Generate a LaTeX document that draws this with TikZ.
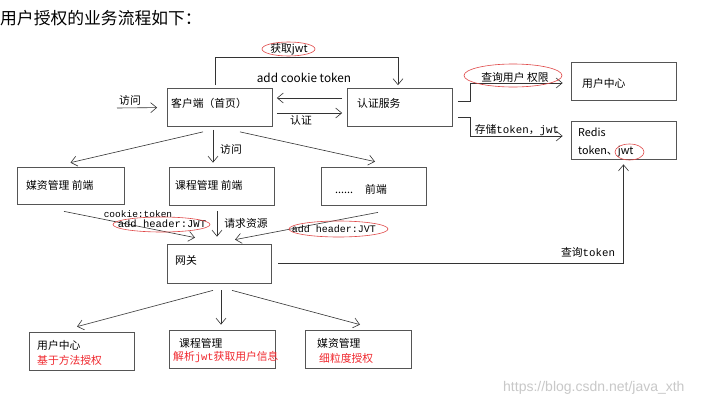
\documentclass[tikz,border=0pt]{standalone}
\usepackage{fontspec}
\setmainfont{Noto Sans CJK SC}
\newfontfamily\mono{Liberation Mono}
\newfontfamily\wmfont{Liberation Sans}
\usetikzlibrary{arrows.meta,calc}
\definecolor{boxc}{HTML}{555555}
\definecolor{linec}{HTML}{333333}
\definecolor{redtc}{HTML}{F0282E}
\definecolor{elc}{HTML}{E04848}
\definecolor{wmc}{HTML}{C8C8C8}
\begin{document}
\begin{tikzpicture}[x=1pt,y=-1pt,
  box/.style={draw=boxc,line width=0.75pt,inner sep=0pt,minimum width=105pt,minimum height=38pt},
  txt/.style={inner sep=0pt,anchor=west,font=\fontsize{10.8}{12}\selectfont,text=black},
  lbl/.style={inner sep=0pt,font=\fontsize{10.8}{12}\selectfont,text=black},
  redtxt/.style={txt,text=redtc},
  arr/.style={draw=linec,line width=0.6pt,-{Straight Barb[length=6pt,width=10pt]}},
  oval/.style={draw=elc,line width=0.6pt}
]
\useasboundingbox[fill=white] (0,0) rectangle (716,410);

% title
\node[inner sep=0pt,anchor=west,font=\fontsize{16.8}{19}\selectfont] (title) at (0,18) {用户授权的业务流程如下：};

% boxes
\node[box] (kh) at (220,107.5) {};
\node[box] (rz) at (400,107.5) {};
\node[box] (yh) at (623.5,81) {};
\node[box] (rd) at (623.5,140) {};
\node[box,minimum width=107pt,minimum height=37pt] (mz) at (70.5,185.5) {};
\node[box] (kc) at (221.5,186) {};
\node[box] (qd) at (373.5,186) {};
\node[box,minimum width=104pt,minimum height=39pt] (wg) at (219,263.5) {};
\node[box] (b1) at (81.5,351) {};
\node[box,minimum width=106pt] (b2) at (222,349) {};
\node[box,minimum width=106pt] (b3) at (358,349) {};

% box texts
\node[txt] (tkh) at (171,103) {客户端（首页）};
\node[txt] (trz) at (357,103) {认证服务};
\node[txt] (tyh) at (582,83) {用户中心};
\node[txt] (trd1) at (578,132) {Redis};
\node[txt] (trd2) at (578,152) {token、jwt};
\node[txt] (tmz) at (26,185) {媒资管理 前端};
\node[txt] (tkc) at (175,185) {课程管理 前端};
\node[txt] (tqd) at (335,189) {......\hspace{12pt}前端};
\node[txt] (twg) at (175,260) {网关};
\node[txt] (tb1a) at (37,345) {用户中心};
\node[redtxt] (tb1b) at (37,360) {基于方法授权};
\node[txt] (tb2a) at (179,343) {课程管理};
\node[redtxt] (tb2b) at (173,357) {解析{\mono\fontsize{10.5}{12}\selectfont jwt}获取用户信息};
\node[txt] (tb3a) at (317,343) {媒资管理};
\node[redtxt] (tb3b) at (319,358) {细粒度授权};

% entry
\coordinate (in) at (117,108);
\draw[arr,shorten >=10pt] (in) -- (kh.west);
\node[lbl] (lin) at (130,100) {访问};

% client <-> auth
\draw[arr,shorten <=5pt,shorten >=4pt] (rz.west |- 0,98) -- (kh.east |- 0,98);
\draw[arr,shorten <=4pt,shorten >=5pt] (kh.east |- 0,113) -- (rz.west |- 0,113);
\node[lbl] (lrz) at (301,120) {认证};
\node[lbl,font=\fontsize{11.8}{13}\selectfont] (lck) at (304,78) {add cookie token};

% top path
\draw[arr,shorten <=3pt,shorten >=3pt] (kh.north -| 215,0) -- (215,57) -| (rz.north -| 398,0);
\node[lbl] (ljwt) at (289,49) {获取jwt};
\draw[oval] (288.5,49) ellipse [x radius=26.5pt, y radius=7pt];

% auth -> user center / redis
\draw[arr,shorten <=5pt,shorten >=8pt] (rz.east |- 0,101) -- (470,101) |- (yh.west |- 0,83);
\node[lbl] (lcx) at (515,77) {查询用户 权限};
\draw[oval] (513,75.5) ellipse [x radius=49pt, y radius=11.5pt];
\draw[arr,shorten <=5pt,shorten >=8pt] (rz.east |- 0,117) -- (470,117) |- (rd.west |- 0,136);
\node[lbl] (lcc) at (517,130) {存储{\mono token}，{\mono jwt}};
\draw[oval] (629.5,152) ellipse [x radius=14.5pt, y radius=8pt];

% client -> fronts
\draw[arr] ([xshift=-17pt,yshift=-5pt]kh.south) -- ([yshift=4pt]mz.north);
\draw[arr] ([xshift=-7pt,yshift=-3pt]kh.south) -- ([xshift=-8.5pt,yshift=4pt]kc.north);
\draw[arr] ([xshift=20pt,yshift=-5pt]kh.south) -- ([xshift=1.5pt,yshift=5pt]qd.north);
\node[lbl] (lfw) at (231,149) {访问};

% fronts -> gateway
\draw[arr] ([xshift=-6.5pt,yshift=-7pt]mz.south) -- ([xshift=-24pt,yshift=6pt]wg.north);
\draw[arr] ([xshift=-4.5pt,yshift=-6pt]kc.south) -- ([xshift=-2pt,yshift=7pt]wg.north);
\draw[arr] ([xshift=4.5pt,yshift=-7pt]qd.south) -- ([xshift=16pt,yshift=4pt]wg.north);
\node[lbl,font=\mono\fontsize{9.5}{11}\selectfont] (lct) at (138,214) {cookie:token};
\node[lbl,font=\mono\fontsize{10.5}{12}\selectfont] (lah1) at (162,224) {add header:JWT};
\draw[oval] (161.5,224.5) ellipse [x radius=48.5pt, y radius=7.5pt];
\node[lbl] (lqq) at (246,223) {请求资源};
\node[lbl,font=\mono\fontsize{10}{12}\selectfont] (lah2) at (334,229) {add header:JVT};
\draw[oval] (338.5,229) ellipse [x radius=49.5pt, y radius=8pt];

% gateway -> redis
\draw[arr,shorten <=7pt,shorten >=5pt] (wg.east) -| (rd.south);
\node[lbl] (lqt) at (588,252) {查询{\mono token}};

% gateway -> services
\draw[arr] ([xshift=-6pt,yshift=-7pt]wg.south) -- ([xshift=-4.5pt,yshift=5pt]b1.north);
\draw[arr] ([xshift=2pt,yshift=-7pt]wg.south) -- ([xshift=-1pt,yshift=5pt]b2.north);
\draw[arr] ([xshift=13pt,yshift=-7pt]wg.south) -- ([xshift=2pt,yshift=5pt]b3.north);

% watermark
\node[inner sep=0pt,anchor=west,font=\wmfont\fontsize{14}{16}\selectfont,text=wmc] (wm) at (503,388) {https://blog.csdn.net/java\_xth};
\end{tikzpicture}
\end{document}
